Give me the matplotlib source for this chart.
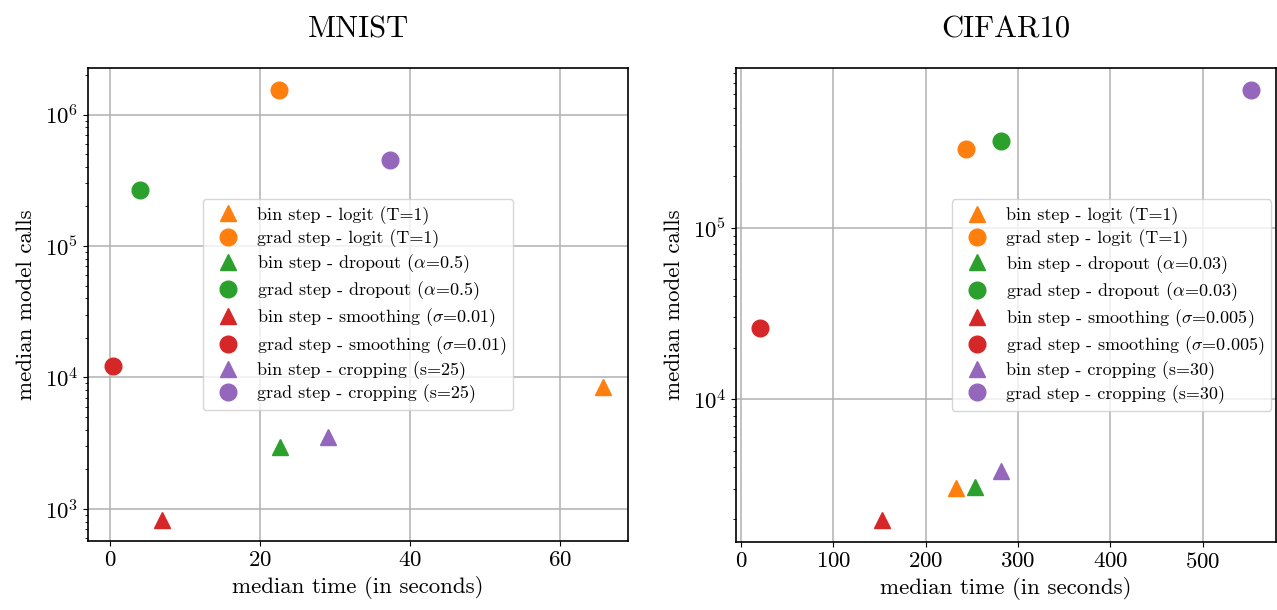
import matplotlib
matplotlib.use("Agg")
import matplotlib.pyplot as plt
from matplotlib.ticker import MultipleLocator

# Шрифты в стиле LaTeX
plt.rcParams["font.family"] = ["cmr10", "DejaVu Serif"]
plt.rcParams["mathtext.fontset"] = "cm"
plt.rcParams["axes.formatter.use_mathtext"] = True
plt.rcParams["axes.linewidth"] = 1.2

colors = ["tab:orange", "tab:green", "tab:red", "tab:purple"]
methods = ["logit", "dropout", "smoothing", "cropping"]

# MNIST: медианное время и число вызовов модели
mnist_params = ["(T=1)", r"($\alpha$=0.5)", r"($\sigma$=0.01)", "(s=25)"]
mnist_bin_time = [65.8, 22.7, 6.9, 29.0]
mnist_bin_calls = [8400, 2980, 830, 3500]
mnist_grad_time = [22.5, 4.0, 0.3, 37.3]
mnist_grad_calls = [1.55e6, 2.67e5, 12300, 4.5e5]

# CIFAR10
cifar_params = ["(T=1)", r"($\alpha$=0.03)", r"($\sigma$=0.005)", "(s=30)"]
cifar_bin_time = [233.2, 253.6, 153.2, 281.8]
cifar_bin_calls = [3040, 3060, 1960, 3810]
cifar_grad_time = [243.2, 281.5, 21.3, 552.5]
cifar_grad_calls = [2.88e5, 3.2e5, 26100, 6.4e5]

fig = plt.figure(figsize=(12.77, 6.1), dpi=100)
ax1 = fig.add_axes([0.0689, 0.1131, 0.4229, 0.7754])
ax2 = fig.add_axes([0.5763, 0.1115, 0.4229, 0.7770])


def draw(ax, title, params, bt, bc, gt, gc, legend_loc, xstep):
    for i in range(len(methods)):
        ax.plot(bt[i], bc[i], ls="none", marker="^", ms=12, color=colors[i],
                label=f"bin step - {methods[i]} {params[i]}", zorder=3)
        ax.plot(gt[i], gc[i], ls="none", marker="o", ms=12, color=colors[i],
                label=f"grad step - {methods[i]} {params[i]}", zorder=3)
    ax.set_yscale("log")
    ax.xaxis.set_major_locator(MultipleLocator(xstep))
    ax.grid(True, which="major", color="#b0b0b0", linewidth=1.1)
    ax.set_axisbelow(True)
    ax.set_title(title, fontsize=22, pad=22)
    ax.set_xlabel("median time (in seconds)", fontsize=16.5)
    ax.set_ylabel("median model calls", fontsize=16.5, labelpad=6)
    ax.tick_params(labelsize=16.5)
    ax.legend(loc=legend_loc, fontsize=13, borderaxespad=0.25,
              labelspacing=0.25, handletextpad=0.6)


draw(ax1, "MNIST", mnist_params, mnist_bin_time, mnist_bin_calls,
     mnist_grad_time, mnist_grad_calls, "center", 20)
draw(ax2, "CIFAR10", cifar_params, cifar_bin_time, cifar_bin_calls,
     cifar_grad_time, cifar_grad_calls, "center right", 100)

fig.savefig("out.png", dpi=100)
